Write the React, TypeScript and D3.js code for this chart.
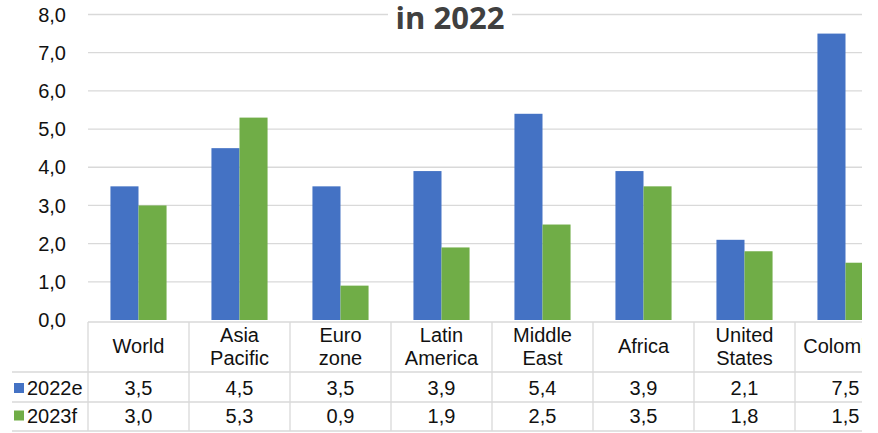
import React from "react";
import * as d3 from "d3";

const categories = ["World", "Asia\nPacific", "Euro\nzone", "Latin\nAmerica", "Middle\nEast", "Africa", "United\nStates", "Colombia"];
const series2022 = [3.5, 4.5, 3.5, 3.9, 5.4, 3.9, 2.1, 7.5];
const series2023 = [3.0, 5.3, 0.9, 1.9, 2.5, 3.5, 1.8, 1.5];
const seriesNames = ["2022e", "2023f"];
const seriesColors = ["#4472C4", "#70AD47"];
const yTicks = [0, 1, 2, 3, 4, 5, 6, 7, 8];
const title = "in 2022";

const W = 878;
const H = 433;
const plotLeft = 88;
const clipRight = 862;
const colW = 101;
const y0 = 320;
const yTop = 14.5;
const tableTop = 322;
const row1 = 372;
const row2 = 402;
const tableBottom = 431;

const fmt = (v: number) => v.toFixed(1).replace(".", ",");

export default function App() {
  const x = d3.scaleBand<string>().domain(categories).range([plotLeft, plotLeft + colW * categories.length]).paddingInner(0).paddingOuter(0);
  const y = d3.scaleLinear().domain([0, 8]).range([y0, yTop]);
  const inner = d3.scaleBand<number>().domain([0, 1]).range([0, x.bandwidth()]).paddingInner(0).paddingOuter(0.8);
  const data = [series2022, series2023];
  const font = "'Liberation Sans', Arial, sans-serif";
  const grid = "#d9d9d9";
  const txt = "#111";
  const fs = 20;

  return (
    <svg width={W} height={H} style={{ position: "fixed", left: 0, top: 0, background: "#fff" }} fontFamily={font}>
      <defs>
        <clipPath id="clip">
          <rect x={0} y={0} width={clipRight} height={H} />
        </clipPath>
      </defs>
      <g clipPath="url(#clip)">
        {yTicks.map((t) => (
          <g key={t}>
            {t > 0 && <line x1={plotLeft} x2={clipRight} y1={y(t)} y2={y(t)} stroke={grid} strokeWidth={1.3} />}
            <text x={66} y={y(t)} dy="0.36em" textAnchor="end" fontSize={fs} fill={txt}>{fmt(t)}</text>
          </g>
        ))}
        <rect x={388} y={0} width={124} height={34} fill="#fff" />
        <text x={450} y={29} textAnchor="middle" fontFamily="'Open Sans', sans-serif" fontWeight={700} fontSize={31} fill="#404040">{title}</text>
        {categories.map((c, i) =>
          data.map((s, j) => (
            <rect key={c + j} x={(x(c) as number) + (inner(j) as number)} width={inner.bandwidth()} y={y(s[i])} height={y(0) - y(s[i])} fill={seriesColors[j]} />
          ))
        )}
        <line x1={plotLeft} x2={clipRight} y1={tableTop} y2={tableTop} stroke={grid} strokeWidth={1.3} />
        {[row1, row2, tableBottom].map((yy) => (
          <line key={yy} x1={12} x2={clipRight} y1={yy} y2={yy} stroke={grid} strokeWidth={1.3} />
        ))}
        {categories.map((c) => (
          <line key={"v" + c} x1={x(c) as number} x2={x(c) as number} y1={tableTop} y2={tableBottom} stroke={grid} strokeWidth={1.3} />
        ))}
        {categories.map((c) => {
          const lines = c.split("\n");
          const cx = (x(c) as number) + x.bandwidth() / 2;
          return (
            <text key={"h" + c} x={cx} textAnchor="middle" fontSize={fs} fill={txt}>
              {lines.length === 1 ? (
                <tspan x={cx} y={346} dy="0.36em">{lines[0]}</tspan>
              ) : (
                lines.map((l, k) => (
                  <tspan key={k} x={cx} y={k === 0 ? 334.5 : 358} dy="0.36em">{l}</tspan>
                ))
              )}
            </text>
          );
        })}
        {data.map((s, j) => {
          const cy = j === 0 ? 388 : 415.5;
          return (
            <g key={"r" + j}>
              <rect x={14} y={cy - 5} width={10} height={10} fill={seriesColors[j]} />
              <text x={27} y={cy} dy="0.36em" fontSize={fs} fill={txt}>{seriesNames[j]}</text>
              {categories.map((c, i) => (
                <text key={c} x={(x(c) as number) + x.bandwidth() / 2} y={cy} dy="0.36em" textAnchor="middle" fontSize={fs} fill={txt}>{fmt(s[i])}</text>
              ))}
            </g>
          );
        })}
      </g>
    </svg>
  );
}
